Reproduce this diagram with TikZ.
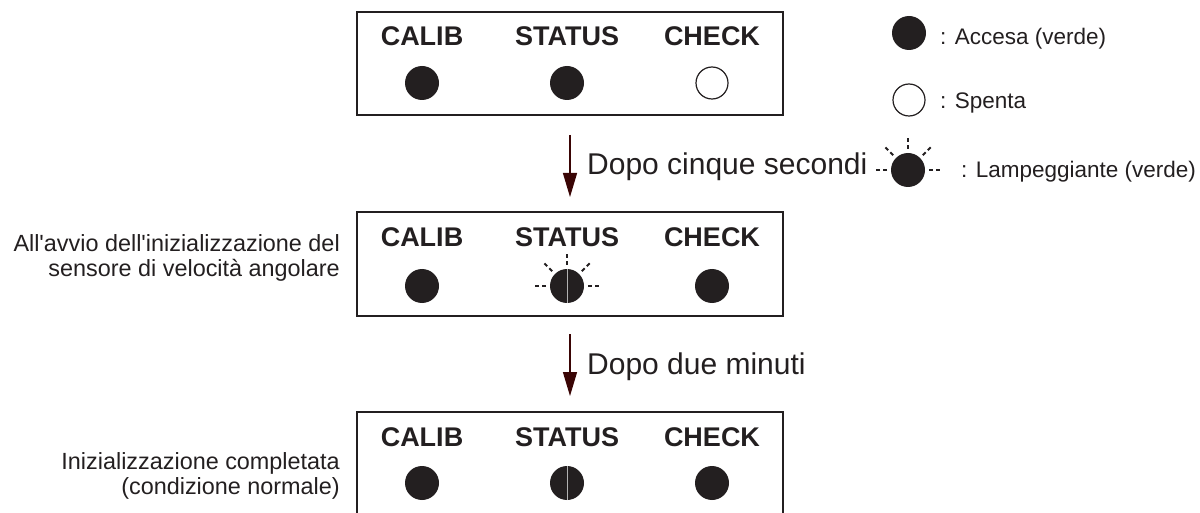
\documentclass[tikz,border=0pt]{standalone}
\usepackage{fontspec}
\setmainfont{Liberation Sans}
\usetikzlibrary{arrows.meta,calc}
\definecolor{ink}{HTML}{231F20}
\definecolor{arrowink}{HTML}{3A0505}

\begin{document}
\begin{tikzpicture}[x=1pt,y=-1pt,
  panel/.style={draw=ink,line width=2pt},
  ledname/.style={font=\fontsize{27}{30}\selectfont\bfseries,text=ink,anchor=base,inner sep=0pt},
  ledon/.style={circle,fill=ink,minimum size=34pt,inner sep=0pt},
  ledoff/.style={circle,draw=ink,line width=1.2pt,minimum size=32pt,inner sep=0pt},
  splitline/.style={draw=gray!60,line width=0.6pt},
  ray/.style={draw=ink,line width=1.8pt,dash pattern=on 4pt off 3pt},
  flow/.style={draw=arrowink,line width=1.3pt,-{Triangle[width=14pt,length=24pt]}},
  steptext/.style={font=\fontsize{30}{34}\selectfont,text=ink,anchor=base west,inner sep=0pt},
  legendtext/.style={font=\fontsize{22.5}{26}\selectfont,text=ink,anchor=base west,inner sep=0pt},
  sidetext/.style={font=\fontsize{23.4}{25}\selectfont,text=ink,anchor=east,align=right,inner sep=0pt}
]
\useasboundingbox (0,0) rectangle (1200,513);

% three indicator panels (the last one runs off the bottom edge)
\draw[panel] (357,12) rectangle (783,115);
\draw[panel] (357,212) rectangle (783,316);
\draw[panel] (357,513) -- (357,412) -- (783,412) -- (783,513);

% panel 1: before start-up
\node[ledname] (c1) at (422,46) {CALIB};
\node[ledname] (s1) at (567,46) {STATUS};
\node[ledname] (k1) at (712,46) {CHECK};
\node[ledon]  (lc1) at (422,83) {};
\node[ledon]  (ls1) at (567,83) {};
\node[ledoff] (lk1) at (712,83) {};

% panel 2: initialisation running
\node[ledname] (c2) at (422,247) {CALIB};
\node[ledname] (s2) at (567,247) {STATUS};
\node[ledname] (k2) at (712,247) {CHECK};
\node[ledon] (lc2) at (422,286) {};
\node[ledon] (ls2) at (567,286) {};
\node[ledon] (lk2) at (712,286) {};
\draw[splitline] (ls2.north) -- (ls2.south);
\foreach \a in {0,45,90,135,180}
  \draw[ray] ($(ls2.center)+(\a:21pt)$) -- ($(ls2.center)+(\a:34pt)$);

% panel 3: initialisation complete
\node[ledname] (c3) at (422,446) {CALIB};
\node[ledname] (s3) at (567,446) {STATUS};
\node[ledname] (k3) at (712,446) {CHECK};
\node[ledon] (lc3) at (422,483) {};
\node[ledon] (ls3) at (567,483) {};
\node[ledon] (lk3) at (712,483) {};
\draw[splitline] (ls3.north) -- (ls3.south);

% transitions
\coordinate (f1a) at (570,135);
\coordinate (f1b) at (570,197);
\coordinate (f2a) at (570,334);
\coordinate (f2b) at (570,396);
\draw[flow] (f1a) -- (f1b);
\draw[flow] (f2a) -- (f2b);
\node[steptext] (t1) at (587,175) {Dopo cinque secondi};
\node[steptext] (t2) at (587,374) {Dopo due minuti};

% side captions
\node[sidetext] (d2) at (340,258) {All\textquotesingle avvio dell\textquotesingle inizializzazione del\\sensore di velocità angolare};
\node[sidetext] (d3) at (340,476) {Inizializzazione completata\\(condizione normale)};

% legend
\node[ledon]  (g1) at (909,33) {};
\node[ledoff] (g2) at (909,100) {};
\node[ledon]  (g3) at (908,170) {};
\foreach \a in {0,45,90,135,180}
  \draw[ray] ($(g3.center)+(\a:21pt)$) -- ($(g3.center)+(\a:34pt)$);
\node[legendtext] (e1) at (940,45) {: Accesa (verde)};
\node[legendtext] (e2) at (940,109) {: Spenta};
\node[legendtext] (e3) at (961,178) {: Lampeggiante (verde)};
\end{tikzpicture}
\end{document}
